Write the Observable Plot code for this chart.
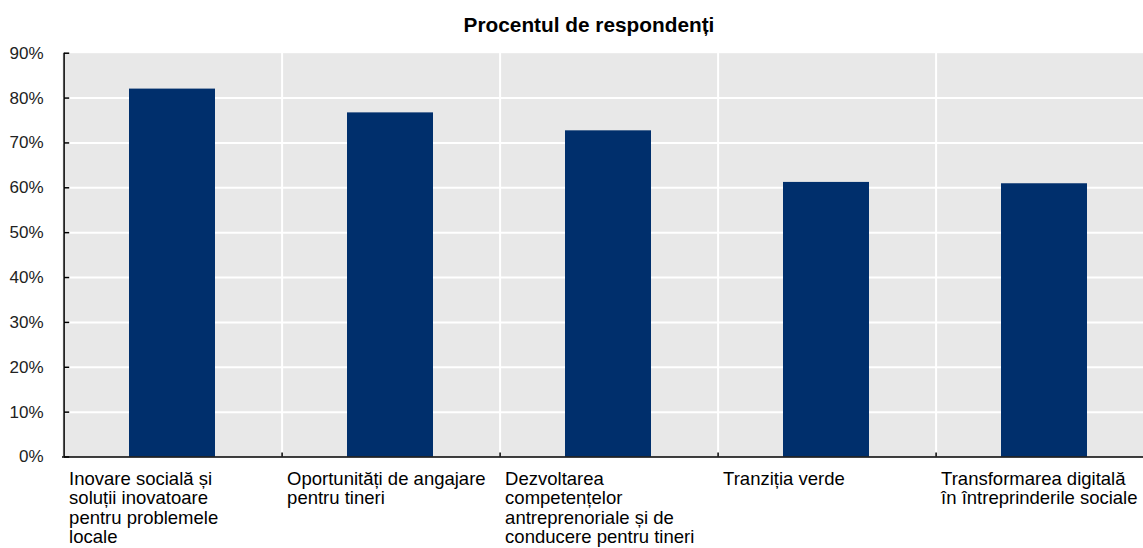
<!DOCTYPE html>
<html>
<head>
<meta charset="utf-8">
<script src="https://cdn.jsdelivr.net/npm/d3@7"></script>
<script src="https://cdn.jsdelivr.net/npm/@observablehq/plot@0.6"></script>
<style>
  html, body { margin: 0; padding: 0; background: white; overflow: hidden; }
  #title {
    box-sizing: border-box;
    height: 40px;
    width: 1108px;
    margin-left: 35px;
    padding-top: 14.6px;
    text-align: center;
    font-family: "Liberation Sans", Arial, sans-serif;
    font-weight: bold;
    font-size: 20.8px;
    line-height: 1;
    color: #000;
  }
  #chart svg { display: block; overflow: hidden; }
</style>
</head>
<body>
<div id="title"></div>
<div id="chart"></div>
<script>
const title = "Procentul de respondenți";
const categories = [
  "Inovare socială și\nsoluții inovatoare\npentru problemele\nlocale",
  "Oportunități de angajare\npentru tineri",
  "Dezvoltarea\ncompetențelor\nantreprenoriale și de\nconducere pentru tineri",
  "Tranziția verde",
  "Transformarea digitală\nîn întreprinderile sociale"
];
const values = [82, 76.7, 72.7, 61.2, 60.9];
const yTicks = [0, 10, 20, 30, 40, 50, 60, 70, 80, 90];

const data = categories.map((c, i) => ({cat: c, value: values[i]}));

document.getElementById("title").textContent = title;

const xRange = [62, 1156];
const bw = (xRange[1] - xRange[0]) / categories.length;

const chart = Plot.plot({
  width: 1143,
  height: 508,
  marginTop: 12.7,
  marginBottom: 91.5,
  marginLeft: 62,
  marginRight: 0,
  style: {fontFamily: "'Liberation Sans', Arial, sans-serif", background: "white", overflow: "hidden"},
  x: {type: "band", domain: categories, range: xRange, padding: 0, axis: null},
  y: {domain: [0, 90], axis: null},
  marks: [
    Plot.frame({fill: "#e8e8e8", stroke: null}),
    Plot.ruleY(yTicks.filter(d => d > 0 && d < 90), {y: d => d, stroke: "white", strokeWidth: 2}),
    Plot.ruleX(categories.slice(1), {x: d => d, y1: 0, y2: 90, dx: -bw / 2, stroke: "white", strokeWidth: 2}),
    Plot.barY(data, {x: "cat", y: "value", fill: "#002F6C", insetLeft: 65, insetRight: 67}),
    Plot.ruleY([0], {y: d => d, stroke: "black", strokeWidth: 1.5}),
    Plot.ruleX([categories[0]], {x: d => d, y1: 0, y2: 90, dx: -bw / 2, stroke: "black", strokeWidth: 1.5}),
    Plot.ruleX(categories.slice(1), {x: d => d, y1: 0, y2: 0.9, dx: -bw / 2, stroke: "black", strokeWidth: 1.5}),
    Plot.tickY(yTicks, {y: d => d, x: () => categories[0], insetRight: bw - 6, stroke: "black", strokeWidth: 1.5}),
    Plot.axisY({ticks: yTicks, tickSize: 0, tickPadding: 19, tickFormat: d => d + "%", fontSize: 17, fill: "#222", label: null}),
    Plot.text(data, {x: "cat", y: 0, text: "cat", textAnchor: "start", lineAnchor: "top",
      dx: -bw / 2 + 5, dy: 14, fontSize: 18.5, lineHeight: 1.05, fill: "black"})
  ]
});
document.getElementById("chart").appendChild(chart);
</script>
</body>
</html>
